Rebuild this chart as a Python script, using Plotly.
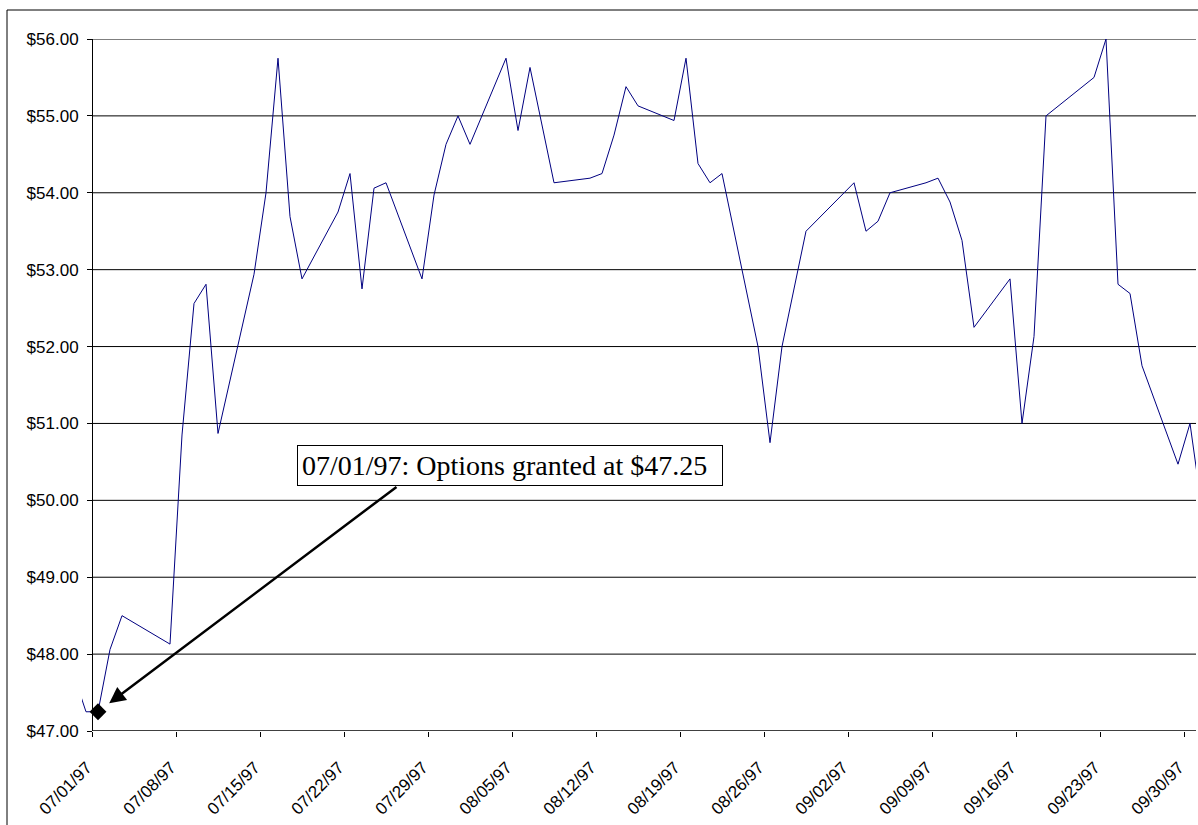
import pandas as pd
import plotly.graph_objects as go

# Daily closing prices, summer 1997
trade_dates = [
    "1997-06-27", "1997-06-30", "1997-07-01", "1997-07-02", "1997-07-03",
    "1997-07-07", "1997-07-08", "1997-07-09", "1997-07-10", "1997-07-11",
    "1997-07-14", "1997-07-15", "1997-07-16", "1997-07-17", "1997-07-18",
    "1997-07-21", "1997-07-22", "1997-07-23", "1997-07-24", "1997-07-25",
    "1997-07-28", "1997-07-29", "1997-07-30", "1997-07-31", "1997-08-01",
    "1997-08-04", "1997-08-05", "1997-08-06", "1997-08-08", "1997-08-11",
    "1997-08-12", "1997-08-13", "1997-08-14", "1997-08-15", "1997-08-18",
    "1997-08-19", "1997-08-20", "1997-08-21", "1997-08-22", "1997-08-25",
    "1997-08-26", "1997-08-27", "1997-08-29", "1997-09-02", "1997-09-03",
    "1997-09-04", "1997-09-05", "1997-09-08", "1997-09-09", "1997-09-10",
    "1997-09-11", "1997-09-12", "1997-09-15", "1997-09-16", "1997-09-17",
    "1997-09-18", "1997-09-22", "1997-09-23", "1997-09-24", "1997-09-25",
    "1997-09-26", "1997-09-29", "1997-09-30", "1997-10-01",
]
close_prices = [
    48.66, 47.25, 47.25, 48.06, 48.50,
    48.13, 50.85, 52.56, 52.81, 50.87,
    52.94, 54.00, 55.75, 53.69, 52.88,
    53.75, 54.25, 52.75, 54.06, 54.13,
    52.88, 53.97, 54.63, 55.00, 54.63,
    55.75, 54.81, 55.63, 54.13, 54.19,
    54.25, 54.75, 55.38, 55.13, 54.94,
    55.75, 54.38, 54.13, 54.25, 52.00,
    50.75, 52.00, 53.50, 54.13, 53.50,
    53.63, 54.00, 54.13, 54.19, 53.88,
    53.38, 52.25, 52.88, 51.00, 52.13,
    55.00, 55.50, 56.00, 52.81, 52.69,
    51.75, 50.47, 51.00, 49.88,
]

grant_date = "1997-07-01"
grant_price = 47.25
grant_label = "07/01/97: Options granted at $47.25"

price_ticks = [47, 48, 49, 50, 51, 52, 53, 54, 55, 56]
price_labels = [f"${v:.2f}" for v in price_ticks]
axis_start = "1997-07-01"
axis_end = "1997-10-01"

# each day's value sits in the middle of its day slot
half_day = pd.Timedelta(hours=12)
x_mid = pd.to_datetime(trade_dates) + half_day
grant_x = pd.Timestamp(grant_date) + half_day

W, H = 1198, 825
ML, MR, MT, MB = 82, 2, 39, 94
PW, PH = W - ML - MR, H - MT - MB


def px_x(p):
    return (p - ML) / PW


def px_y(p):
    return (H - MB - p) / PH


fig = go.Figure()

fig.add_trace(go.Scatter(
    x=x_mid, y=close_prices, mode="lines",
    line=dict(color="#000080", width=1),
    hoverinfo="x+y", showlegend=False,
))
fig.add_trace(go.Scatter(
    x=[grant_x], y=[grant_price], mode="markers",
    marker=dict(symbol="diamond", size=13, color="black"),
    cliponaxis=False, showlegend=False,
))

shapes = []
# horizontal gridlines starting at the value axis
for v in price_ticks:
    shapes.append(dict(type="line", xref="x", yref="y", layer="below",
                       x0=axis_start, x1=axis_end, y0=v, y1=v,
                       line=dict(color="black", width=1)))
# date axis baseline
shapes.append(dict(type="line", xref="x", yref="y",
                   x0=axis_start, x1=axis_end, y0=price_ticks[0], y1=price_ticks[0],
                   line=dict(color="black", width=1)))
# chart frame
shapes.append(dict(type="rect", xref="paper", yref="paper",
                   x0=px_x(7), x1=px_x(1200), y0=px_y(830), y1=px_y(10),
                   line=dict(color="black", width=1), fillcolor="rgba(0,0,0,0)"))

annotations = [
    dict(xref="x", yref="y", x=grant_x, y=grant_price, text="",
         showarrow=True, ax=300, ay=-226, arrowhead=2, arrowsize=1.3,
         arrowwidth=2.5, arrowcolor="black", standoff=14),
    dict(xref="paper", yref="paper", x=px_x(297), y=px_y(445),
         xanchor="left", yanchor="top", text=grant_label, showarrow=False,
         font=dict(family="Liberation Serif, Times New Roman, serif", size=28, color="black"),
         bgcolor="white", bordercolor="black", borderwidth=1, borderpad=4,
         width=416, height=31, align="left"),
]

fig.update_layout(
    width=W, height=H,
    margin=dict(l=ML, r=MR, t=MT, b=MB, pad=0),
    paper_bgcolor="white", plot_bgcolor="white",
    font=dict(family="Liberation Sans, Arial, sans-serif", size=17, color="black"),
    shapes=shapes, annotations=annotations,
    xaxis=dict(
        type="date",
        range=[pd.Timestamp(axis_end) - pd.Timedelta(days=PW / 12), axis_end],
        tickmode="linear", tick0=axis_start, dtick=7 * 86400000,
        tickformat="%m/%d/%y", tickangle=-45,
        ticks="outside", ticklen=5, tickcolor="black", tickwidth=1,
        ticklabelstandoff=14, ticklabelshift=-5,
        showgrid=False, showline=False, zeroline=False,
        tickfont=dict(size=17),
    ),
    yaxis=dict(
        range=[price_ticks[0], price_ticks[-1]],
        tickmode="array", tickvals=price_ticks, ticktext=price_labels,
        anchor="free", position=px_x(92),
        ticks="outside", ticklen=5, tickcolor="black", tickwidth=1,
        ticklabelstandoff=5,
        showline=True, linecolor="black", linewidth=1,
        showgrid=False, zeroline=False,
        tickfont=dict(size=17),
    ),
)

fig.write_html("out.html")
